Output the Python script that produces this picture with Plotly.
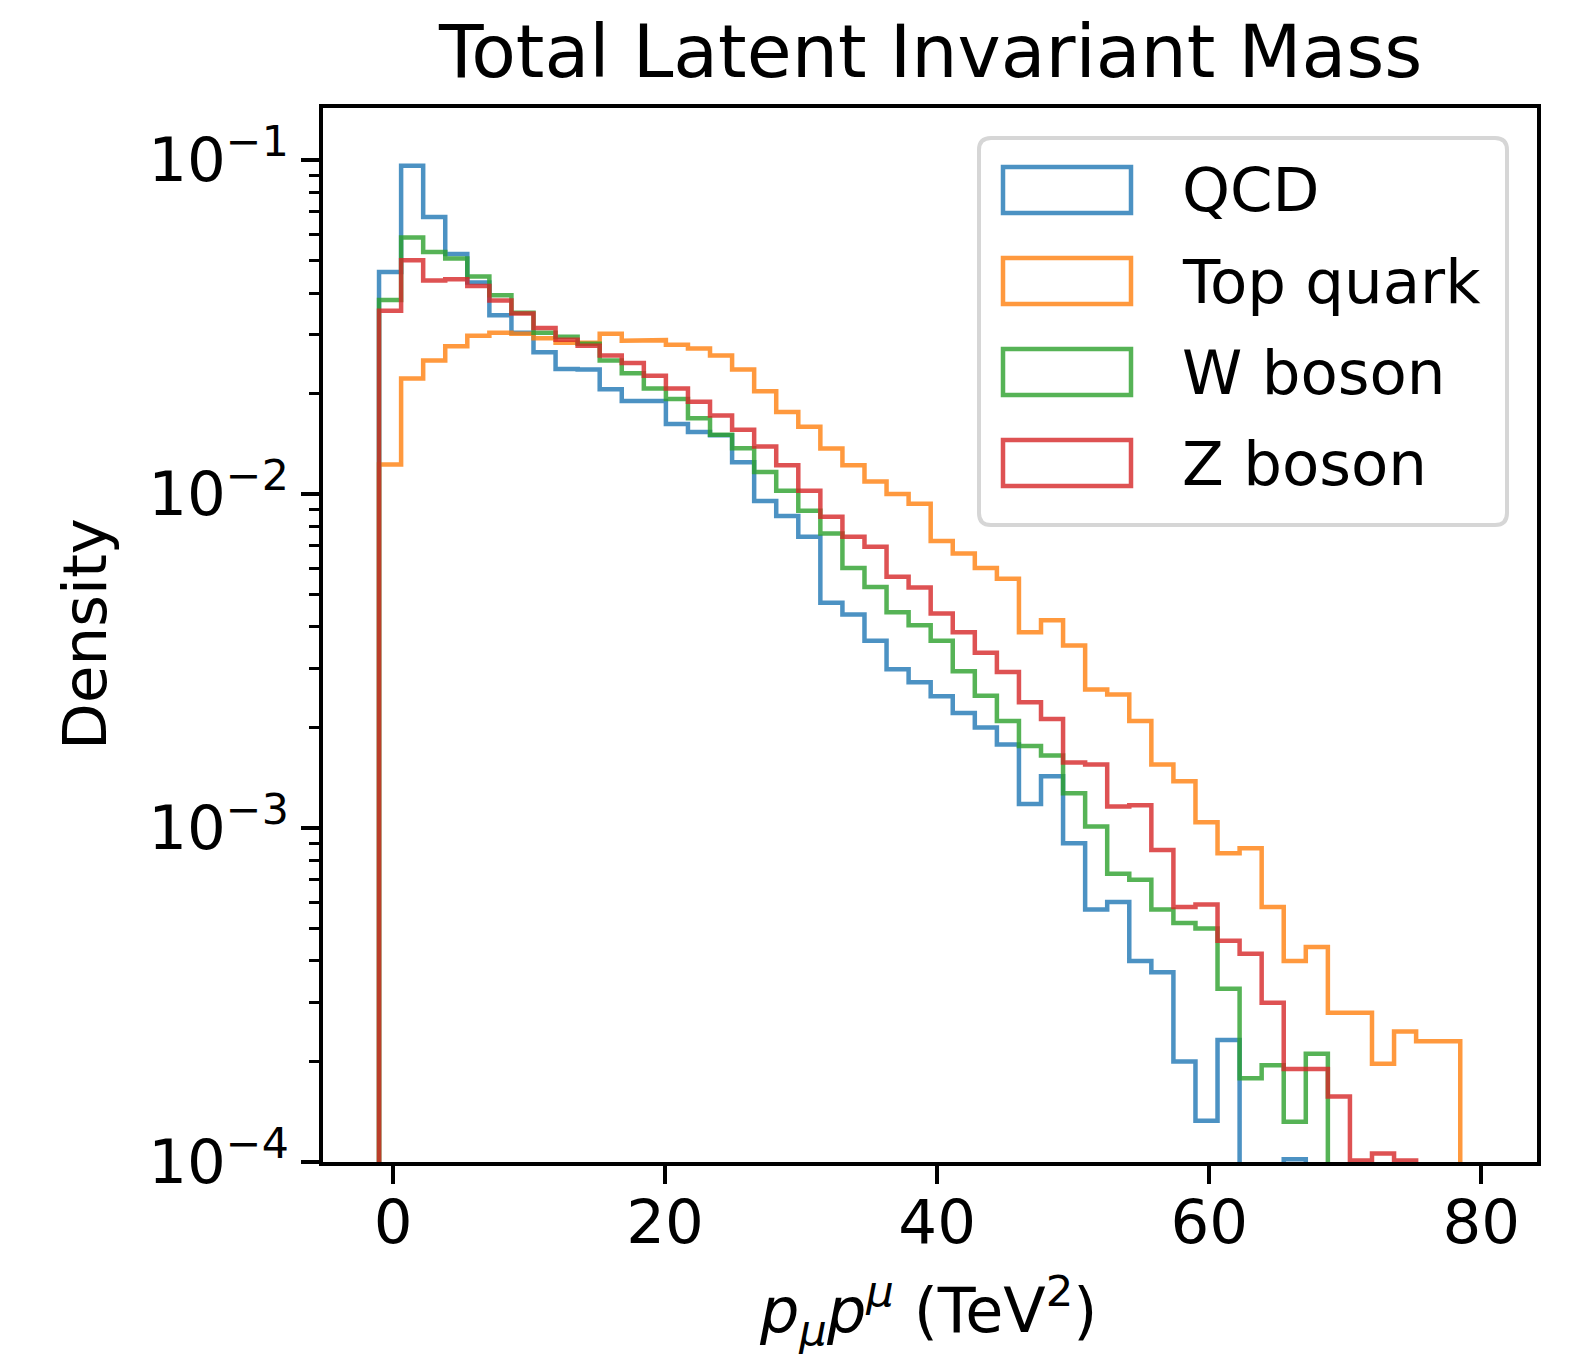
import numpy as np
import plotly.graph_objects as go

# ---------------- data ----------------
BIN_START = -1.03
BIN_END = 80.08
N_BINS = 50

labels = ["QCD", "Top quark", "W boson", "Z boson"]
colors = ["rgba(31,119,180,0.8)", "rgba(255,127,14,0.8)",
          "rgba(44,160,44,0.8)", "rgba(214,39,40,0.8)"]

qcd = [0.0462, 0.0961, 0.0676, 0.0523, 0.0430, 0.0343, 0.0304, 0.0266, 0.0237, 0.0236,
       0.0206, 0.0190, 0.0190, 0.0162, 0.01535, 0.0150, 0.01245, 0.00953, 0.00859, 0.00745,
       0.00473, 0.00436, 0.00364, 0.00299, 0.00273, 0.00248, 0.00221, 0.00200, 0.00178, 0.00118,
       0.00143, 0.00090, 0.00057, 0.00060, 0.00040, 0.00037, 0.00020, 0.000133, 0.000232, 0.0,
       0.0, 0.000102, 0.0, 0.0, 0.0, 0.0, 0.0, 0.0, 0.0, 0.0]

top = [0.01227, 0.0222, 0.0251, 0.0277, 0.0298, 0.0304, 0.0302, 0.0293, 0.0284, 0.0284,
       0.0302, 0.0288, 0.0289, 0.0280, 0.0273, 0.0260, 0.0236, 0.0203, 0.0176, 0.0159,
       0.0137, 0.0122, 0.0109, 0.0100, 0.00935, 0.00724, 0.00664, 0.00601, 0.00558, 0.00386,
       0.00419, 0.00352, 0.00260, 0.00251, 0.00209, 0.00155, 0.00138, 0.00104, 0.00084, 0.00087,
       0.00058, 0.00040, 0.00044, 0.00028, 0.00028, 0.000197, 0.000246, 0.00023, 0.00023, 0.00006]

w_boson = [0.0381, 0.0586, 0.0531, 0.0507, 0.0448, 0.0394, 0.0349, 0.0304, 0.0296, 0.0282,
           0.0251, 0.0230, 0.0207, 0.01925, 0.01688, 0.01504, 0.01372, 0.01164, 0.01023, 0.00891,
           0.00762, 0.00601, 0.00527, 0.00443, 0.00405, 0.00364, 0.00295, 0.00249, 0.00209, 0.00176,
           0.00165, 0.00127, 0.00101, 0.00073, 0.00070, 0.00057, 0.00052, 0.00050, 0.00033, 0.000178,
           0.000195, 0.000132, 0.000211, 0.0, 0.0, 0.0, 0.0, 0.0, 0.0, 0.0]

z_boson = [0.0354, 0.0501, 0.0436, 0.0440, 0.0420, 0.0380, 0.0347, 0.0314, 0.0290, 0.0278,
           0.0260, 0.0247, 0.0226, 0.0207, 0.0189, 0.01718, 0.01557, 0.01388, 0.0122, 0.01023,
           0.00855, 0.00745, 0.00695, 0.00565, 0.00525, 0.00439, 0.00386, 0.00335, 0.00293, 0.00238,
           0.00212, 0.00157, 0.00155, 0.00116, 0.00117, 0.00086, 0.00058, 0.00059, 0.00046, 0.00042,
           0.00030, 0.00019, 0.00019, 0.000157, 0.000101, 0.000106, 0.000101, 0.0, 0.0, 0.0]

series = [qcd, top, w_boson, z_boson]

x_ticks = [0, 20, 40, 60, 80]
y_ticks = [1e-4, 1e-3, 1e-2, 1e-1]
y_tick_text = ["10<sup>\u22124</sup>", "10<sup>\u22123</sup>", "10<sup>\u22122</sup>", "10<sup>\u22121</sup>"]
y_minor = [m * 10.0 ** e for e in (-4, -3, -2) for m in range(2, 10)]

title_text = "Total Latent Invariant Mass"
x_title = "<i>p</i><sub><i>\u03bc</i></sub><i>p</i><sup><i>\u03bc</i></sup> (TeV<sup>2</sup>)"
y_title = "Density"

# ---------------- geometry (pixels) ----------------
W, H = 1577, 1355
L, R, T, B = 323, 1537, 108, 1162
FONT = "DejaVu Sans"


def to_paper(px, py):
    return (px - L) / (R - L), (B - py) / (B - T)


def rounded_rect_path(x0, y0, x1, y1, r):
    pts = [("M", [(x0 + r, y0)]), ("L", [(x1 - r, y0)]), ("Q", [(x1, y0), (x1, y0 + r)]),
           ("L", [(x1, y1 - r)]), ("Q", [(x1, y1), (x1 - r, y1)]), ("L", [(x0 + r, y1)]),
           ("Q", [(x0, y1), (x0, y1 - r)]), ("L", [(x0, y0 + r)]), ("Q", [(x0, y0), (x0 + r, y0)])]
    s = ""
    for cmd, ps in pts:
        s += cmd + " " + " ".join("%.5f,%.5f" % to_paper(px, py) for px, py in ps) + " "
    return s + "Z"


edges = np.linspace(BIN_START, BIN_END, N_BINS + 1)
FLOOR = 1e-9

fig = go.Figure()
for vals, col, lab in zip(series, colors, labels):
    v = np.asarray(vals, dtype=float)
    v = np.where(v > 0, v, FLOOR)
    xs = np.repeat(edges, 2)
    ys = np.concatenate([[FLOOR], np.repeat(v, 2), [FLOOR]])
    fig.add_trace(go.Scatter(x=xs, y=ys, mode="lines", name=lab,
                             line=dict(color=col, width=4.5), showlegend=False,
                             hoverinfo="skip"))

axis_common = dict(showline=True, linecolor="black", linewidth=4, mirror=True,
                   ticks="outside", ticklen=18, tickwidth=4, tickcolor="black",
                   showgrid=False, zeroline=False,
                   tickfont=dict(family=FONT, size=61, color="black"))

fig.update_xaxes(range=[-5.15, 84.1], tickmode="array", tickvals=x_ticks,
                 ticktext=[str(t) for t in x_ticks], ticklabelstandoff=-14, **axis_common)
fig.update_yaxes(type="log", range=[-4, -0.844], tickmode="array", tickvals=y_ticks,
                 ticktext=y_tick_text,
                 minor=dict(tickmode="array", tickvals=y_minor, ticks="outside",
                            ticklen=10, tickwidth=3, tickcolor="black", showgrid=False),
                 **axis_common)

shapes = []
annotations = []

# legend frame
shapes.append(dict(type="path", xref="paper", yref="paper",
                   path=rounded_rect_path(979, 138, 1507, 525, 12),
                   fillcolor="rgba(255,255,255,0.8)",
                   line=dict(color="#d6d6d6", width=4), layer="above"))
for i, (col, lab) in enumerate(zip(colors, labels)):
    cy = 190 + 91 * i
    x0, y0 = to_paper(1003, cy - 23)
    x1, y1 = to_paper(1131, cy + 23)
    shapes.append(dict(type="rect", xref="paper", yref="paper", x0=x0, x1=x1, y0=y0, y1=y1,
                       line=dict(color=col, width=4.5), fillcolor="rgba(0,0,0,0)", layer="above"))
    tx, ty = to_paper(1180, cy)
    annotations.append(dict(text=lab, xref="paper", yref="paper", x=tx, y=ty,
                            xanchor="left", yanchor="middle", showarrow=False,
                            font=dict(family=FONT, size=61, color="black")))

# title
tx, ty = to_paper(930, 52)
annotations.append(dict(text=title_text, xref="paper", yref="paper", x=tx, y=ty,
                        xanchor="center", yanchor="middle", showarrow=False,
                        font=dict(family=FONT, size=73, color="black")))
# x axis title
tx, ty = to_paper(928, 1310)
annotations.append(dict(text=x_title, xref="paper", yref="paper", x=tx, y=ty,
                        xanchor="center", yanchor="middle", showarrow=False,
                        font=dict(family=FONT, size=62, color="black")))
# y axis title
tx, ty = to_paper(84, 634)
annotations.append(dict(text=y_title, xref="paper", yref="paper", x=tx, y=ty,
                        xanchor="center", yanchor="middle", showarrow=False, textangle=-90,
                        font=dict(family=FONT, size=61, color="black")))

fig.update_layout(width=W, height=H, autosize=False,
                  margin=dict(l=L, r=W - R, t=T, b=H - B, pad=0),
                  paper_bgcolor="white", plot_bgcolor="white",
                  shapes=shapes, annotations=annotations, showlegend=False,
                  font=dict(family=FONT, color="black"))

fig.write_html("out.html")
